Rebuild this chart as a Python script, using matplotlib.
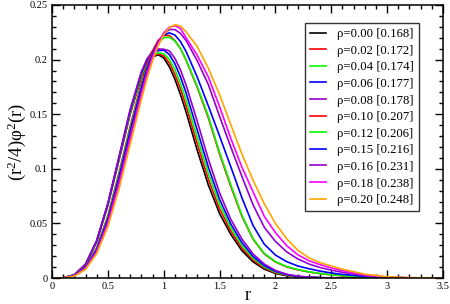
import matplotlib
matplotlib.use("Agg")
import matplotlib.pyplot as plt
from matplotlib.ticker import MultipleLocator, FuncFormatter

plt.rcParams['font.family'] = ['Liberation Serif', 'DejaVu Serif']
plt.rcParams['mathtext.fontset'] = 'custom'
plt.rcParams['mathtext.rm'] = 'Liberation Serif'
plt.rcParams['mathtext.it'] = 'Liberation Serif:italic'

r = [0, 0.1, 0.2, 0.3, 0.4, 0.5, 0.6, 0.7, 0.8, 0.85, 0.9, 0.95, 1.0, 1.05, 1.1, 1.15,
     1.2, 1.3, 1.4, 1.5, 1.6, 1.7, 1.8, 1.9, 2.0, 2.1, 2.2, 2.3, 2.4, 2.5, 2.6, 2.8, 3.0, 3.2, 3.5]

rho_labels = ["ρ=0.00 [0.168]", "ρ=0.02 [0.172]", "ρ=0.04 [0.174]", "ρ=0.06 [0.177]",
              "ρ=0.08 [0.178]", "ρ=0.10 [0.207]", "ρ=0.12 [0.206]", "ρ=0.15 [0.216]",
              "ρ=0.16 [0.231]", "ρ=0.18 [0.238]", "ρ=0.20 [0.248]"]

colors = ["black", "#ff0000", "#00ff00", "#0000ff", "#9400d3", "#ff0000", "#00ff00",
          "#0000ff", "#9400d3", "#ff00ff", "#ffa500"]

y_000 = [0, 0.0002, 0.0027, 0.0123, 0.0333, 0.0666, 0.1083, 0.1504, 0.1840, 0.1953, 0.2022, 0.2045,
         0.2015, 0.1935, 0.1820, 0.1680, 0.1520, 0.1170, 0.0850, 0.0590, 0.0400, 0.0250, 0.0148,
         0.0081, 0.0042, 0.0020, 0.0009, 0.0004, 0.0002, 0, 0, 0, 0, 0, 0]
y_002 = [0, 0.0002, 0.0027, 0.0124, 0.0335, 0.0669, 0.1088, 0.1512, 0.1849, 0.1963, 0.2032, 0.2054,
         0.2035, 0.1969, 0.1864, 0.1731, 0.1576, 0.1229, 0.0902, 0.0632, 0.0431, 0.0274, 0.0164,
         0.0091, 0.0048, 0.0023, 0.0011, 0.0005, 0.0002, 0, 0, 0, 0, 0, 0]
y_004 = [0, 0.0002, 0.0027, 0.0124, 0.0336, 0.0673, 0.1094, 0.1519, 0.1858, 0.1973, 0.2042, 0.2063,
         0.2053, 0.2003, 0.1908, 0.1782, 0.1632, 0.1288, 0.0955, 0.0675, 0.0462, 0.0298, 0.0181,
         0.0102, 0.0054, 0.0027, 0.0012, 0.0006, 0.0003, 0, 0, 0, 0, 0, 0]
y_006 = [0, 0.0002, 0.0028, 0.0125, 0.0340, 0.0679, 0.1105, 0.1534, 0.1877, 0.1992, 0.2062, 0.2083,
         0.2086, 0.2047, 0.1962, 0.1842, 0.1697, 0.1355, 0.1014, 0.0721, 0.0496, 0.0324, 0.0198,
         0.0113, 0.0061, 0.0031, 0.0014, 0.0007, 0.0003, 0, 0, 0, 0, 0, 0]
y_008 = [0, 0.0002, 0.0028, 0.0127, 0.0343, 0.0685, 0.1112, 0.1545, 0.1890, 0.2006, 0.2077, 0.2098,
         0.2095, 0.2080, 0.2012, 0.1905, 0.1768, 0.1436, 0.1087, 0.0780, 0.0538, 0.0357, 0.0220,
         0.0128, 0.0069, 0.0035, 0.0017, 0.0008, 0.0003, 0.0001, 0, 0, 0, 0, 0]
y_010 = [0, 0.0001, 0.0023, 0.0102, 0.0278, 0.0570, 0.0965, 0.1390, 0.1785, 0.1950, 0.2080, 0.2175,
         0.2220, 0.2220, 0.2175, 0.2100, 0.1995, 0.1745, 0.1465, 0.1135, 0.0840, 0.0565, 0.0355,
         0.0220, 0.0147, 0.0102, 0.0075, 0.0055, 0.0040, 0.0029, 0.0020, 0.0008, 0.0003, 0.0001, 0]
y_012 = [0, 0.0001, 0.0022, 0.0099, 0.0270, 0.0555, 0.0945, 0.1365, 0.1760, 0.1925, 0.2055, 0.2150,
         0.2200, 0.2205, 0.2170, 0.2100, 0.2000, 0.1755, 0.1480, 0.1150, 0.0855, 0.0575, 0.0360,
         0.0225, 0.0150, 0.0105, 0.0078, 0.0057, 0.0041, 0.0030, 0.0021, 0.0009, 0.0003, 0.0001, 0]
y_015 = [0, 0.0001, 0.0021, 0.0095, 0.0262, 0.0540, 0.0925, 0.1345, 0.1745, 0.1915, 0.2055, 0.2160,
         0.2225, 0.2245, 0.2225, 0.2165, 0.2075, 0.1840, 0.1575, 0.1300, 0.1020, 0.0735, 0.0480,
         0.0310, 0.0210, 0.0150, 0.0110, 0.0085, 0.0063, 0.0046, 0.0033, 0.0015, 0.0005, 0.0001, 0]
y_016 = [0, 0.0001, 0.0020, 0.0091, 0.0252, 0.0520, 0.0893, 0.1305, 0.1710, 0.1890, 0.2040, 0.2155,
         0.2235, 0.2275, 0.2275, 0.2240, 0.2175, 0.1990, 0.1770, 0.1480, 0.1200, 0.0930, 0.0670,
         0.0465, 0.0335, 0.0240, 0.0175, 0.0128, 0.0096, 0.0072, 0.0052, 0.0022, 0.0007, 0.0002, 0]
y_018 = [0, 0.0001, 0.0019, 0.0085, 0.0237, 0.0495, 0.0855, 0.1265, 0.1675, 0.1860, 0.2020, 0.2150,
         0.2245, 0.2297, 0.2310, 0.2285, 0.2200, 0.2040, 0.1840, 0.1570, 0.1280, 0.1015, 0.0788,
         0.0565, 0.0416, 0.0297, 0.0213, 0.0158, 0.0122, 0.0092, 0.0067, 0.0028, 0.0009, 0.0002, 0]
y_020 = [0, 0.0001, 0.0017, 0.0079, 0.0223, 0.0470, 0.0816, 0.1224, 0.1636, 0.1825, 0.1989, 0.2126,
         0.2227, 0.2292, 0.2319, 0.2308, 0.2255, 0.2120, 0.1920, 0.1680, 0.1405, 0.1135, 0.0895,
         0.0680, 0.0500, 0.0360, 0.0255, 0.0185, 0.0140, 0.0110, 0.0080, 0.0035, 0.0012, 0.0003, 0]

series = [y_000, y_002, y_004, y_006, y_008, y_010, y_012, y_015, y_016, y_018, y_020]

fig = plt.figure(figsize=(4.5, 3.04), dpi=100)
ax = fig.add_axes([52 / 450, 26 / 304, 391 / 450, 273 / 304])

for ys, c, lab in zip(series, colors, rho_labels):
    ax.plot(r, ys, color=c, lw=1.2, label=lab)

ax.set_xlim(0, 3.5)
ax.set_ylim(0, 0.25)
ax.xaxis.set_major_locator(MultipleLocator(0.5))
ax.xaxis.set_minor_locator(MultipleLocator(0.1))
ax.yaxis.set_major_locator(MultipleLocator(0.05))
ax.yaxis.set_minor_locator(MultipleLocator(0.01))
fmt = FuncFormatter(lambda v, p: "%g" % round(v, 4))
ax.xaxis.set_major_formatter(fmt)
ax.yaxis.set_major_formatter(fmt)
ax.tick_params(which='both', direction='in', top=True, right=True, width=1.0, colors='black',
               labelsize=7.5)
ax.tick_params(which='major', length=6, pad=3)
ax.tick_params(which='minor', length=3)
for s in ax.spines.values():
    s.set_linewidth(1.1)

ax.set_xlabel("r", fontsize=13, labelpad=-3)
ax.set_ylabel("(r$^2$/4)φ$^2$(r)", fontsize=13.5, labelpad=1)

leg = ax.legend(loc='upper right', bbox_to_anchor=(0.9386, 0.934), fontsize=9.2, frameon=True,
                fancybox=False, handlelength=1.2, handletextpad=0.9, borderpad=0.4,
                labelspacing=0.36, borderaxespad=0)
leg.get_frame().set_edgecolor('black')
leg.get_frame().set_linewidth(1.0)

fig.savefig("out.png", dpi=100)
